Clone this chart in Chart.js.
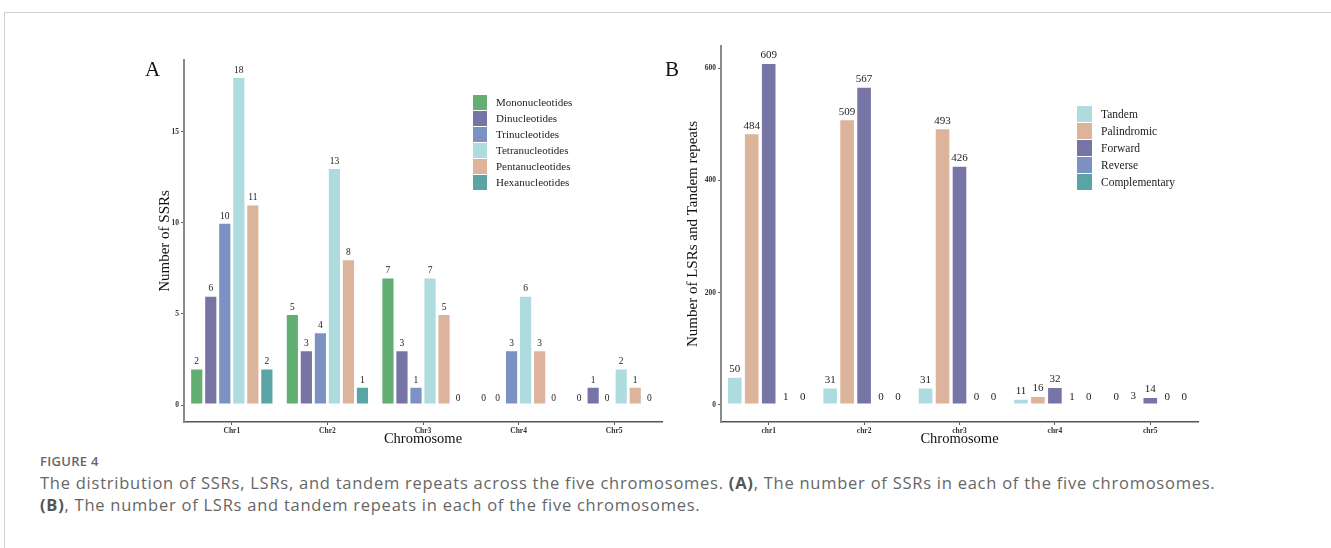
<!DOCTYPE html>
<html>
<head>
<meta charset="utf-8">
<script src="https://cdn.jsdelivr.net/npm/chart.js@4.4.1/dist/chart.umd.min.js"></script>
<style>
    body { margin: 0; background: #fff; width: 1331px; height: 548px; overflow: hidden; position: relative; }
    .frame { position: absolute; left: 4px; top: 12px; right: -2px; bottom: -2px; border-top: 1px solid #d0d0d0; border-left: 1px solid #d0d0d0; }
    .wrap { position: absolute; }
    .panel { position: absolute; font-family: "Liberation Serif", serif; font-size: 21px; color: #111; }
    .legend { position: absolute; font-family: "Liberation Serif", serif; color: #222; }
    .legend div { display: flex; align-items: center; }
    .legend span.sw { display: inline-block; margin-right: 9px; }
    .caption { position: absolute; left: 40px; font-family: "Open Sans", sans-serif; color: #666; white-space: nowrap; }
</style>
</head>
<body>
<div class="frame"></div>

<div class="wrap" style="left:140px; top:40px; width:540px; height:420px;"><canvas id="chartA"></canvas></div>
<div class="wrap" style="left:680px; top:30px; width:530px; height:430px;"><canvas id="chartB"></canvas></div>

<div class="panel" style="left:145px; top:57px;">A</div>
<div class="panel" style="left:665px; top:57px;">B</div>

<div class="legend" id="legendA" style="left:473px; top:94px; font-size:11px;"></div>
<div class="legend" id="legendB" style="left:1077px; top:105px; font-size:11.5px;"></div>

<div class="caption" style="top:452px; font-size:13px; font-weight:600; letter-spacing:0.3px;">FIGURE 4</div>
<div class="caption" style="top:472px; font-size:16.5px; line-height:22px; letter-spacing:0.75px;">
    The distribution of SSRs, LSRs, and tandem repeats across the five chromosomes. <b style="color:#555">(A)</b>, The number of SSRs in each of the five chromosomes.<br>
    <b style="color:#555">(B)</b>, The number of LSRs and tandem repeats in each of the five chromosomes.
</div>

<script>
// Panel A - SSRs
const ssrChromosomes = ['Chr1', 'Chr2', 'Chr3', 'Chr4', 'Chr5'];
const mononucleotides = [2, 5, 7, 0, 0];
const dinucleotides = [6, 3, 3, 0, 1];
const trinucleotides = [10, 4, 1, 3, 0];
const tetranucleotides = [18, 13, 7, 6, 2];
const pentanucleotides = [11, 8, 5, 3, 1];
const hexanucleotides = [2, 1, 0, 0, 0];
const ssrTicks = [0, 5, 10, 15];

// Panel B - LSRs and tandem repeats
const lsrChromosomes = ['chr1', 'chr2', 'chr3', 'chr4', 'chr5'];
const tandem = [50, 31, 31, 11, 0];
const palindromic = [484, 509, 493, 16, 3];
const forward = [609, 567, 426, 32, 14];
const reverse = [1, 0, 0, 1, 0];
const complementary = [0, 0, 0, 0, 0];
const lsrTicks = [0, 200, 400, 600];

const colors = {
    green: '#63ae72',
    purple: '#7675a6',
    blue: '#7b92c3',
    cyan: '#aedcde',
    tan: '#dbb49b',
    teal: '#5aa4a5'
};

// value on top of each bar
const barLabels = {
    id: 'barLabels',
    afterDatasetsDraw(chart, args, opts) {
        const ctx = chart.ctx;
        ctx.save();
        ctx.font = opts.size + 'px "Liberation Serif", serif';
        ctx.fillStyle = '#222';
        ctx.textAlign = 'center';
        ctx.textBaseline = 'bottom';
        chart.data.datasets.forEach((ds, i) => {
            chart.getDatasetMeta(i).data.forEach((bar, j) => {
                ctx.fillText(String(ds.data[j]), bar.x, bar.y - 2);
            });
        });
        ctx.restore();
    }
};

function makeChart(id, labels, sets, yMin, yMax, yTicks, yTitle, o) {
    const ctx = document.getElementById(id).getContext('2d');
    return new Chart(ctx, {
        type: 'bar',
        data: {
            labels: labels,
            datasets: sets.map(s => ({
                label: s.label,
                data: s.data,
                backgroundColor: s.color,
                borderColor: '#ffffff',
                borderWidth: 1,
                borderSkipped: false,
                categoryPercentage: o.catPct,
                barPercentage: o.barPct
            }))
        },
        options: {
            responsive: true,
            maintainAspectRatio: false,
            animation: false,
            layout: { padding: { top: o.padTop, right: o.padRight, left: 0, bottom: 0 } },
            plugins: {
                legend: { display: false },
                tooltip: { enabled: false },
                barLabels: { size: o.labelSize }
            },
            scales: {
                x: {
                    grid: { display: true, offset: false, drawOnChartArea: false, tickLength: 3, color: '#555', lineWidth: 1 },
                    border: { display: true, color: '#555', width: 1.5 },
                    ticks: { padding: 2, color: '#333', font: { family: '"Liberation Serif", serif', size: 7.5, weight: 'bold' } },
                    title: { display: true, text: 'Chromosome', color: '#111', padding: { top: 0, bottom: o.xTitlePad }, font: { family: '"Liberation Serif", serif', size: 14.5 } },
                    afterFit: s => { s.height = 38; }
                },
                y: {
                    min: yMin,
                    max: yMax,
                    afterBuildTicks: s => { s.ticks = yTicks.map(v => ({ value: v })); },
                    grid: { display: true, drawOnChartArea: false, tickLength: 3, color: '#666', lineWidth: 1 },
                    border: { display: true, color: '#8a8a8a', width: 2 },
                    ticks: { padding: 2, color: '#333', font: { family: '"Liberation Serif", serif', size: 7.5, weight: 'bold' } },
                    title: { display: true, text: yTitle, color: '#111', padding: { top: o.yTitlePad, bottom: 0 }, font: { family: '"Liberation Serif", serif', size: 15 } },
                    afterFit: s => { s.width = o.yWidth; }
                }
            }
        },
        plugins: [barLabels]
    });
}

const setsA = [
    { label: 'Mononucleotides', data: mononucleotides, color: colors.green },
    { label: 'Dinucleotides', data: dinucleotides, color: colors.purple },
    { label: 'Trinucleotides', data: trinucleotides, color: colors.blue },
    { label: 'Tetranucleotides', data: tetranucleotides, color: colors.cyan },
    { label: 'Pentanucleotides', data: pentanucleotides, color: colors.tan },
    { label: 'Hexanucleotides', data: hexanucleotides, color: colors.teal }
];
const setsB = [
    { label: 'Tandem', data: tandem, color: colors.cyan },
    { label: 'Palindromic', data: palindromic, color: colors.tan },
    { label: 'Forward', data: forward, color: colors.purple },
    { label: 'Reverse', data: reverse, color: colors.blue },
    { label: 'Complementary', data: complementary, color: colors.teal }
];

makeChart('chartA', ssrChromosomes, setsA, -0.93, 18.93, ssrTicks, 'Number of SSRs',
    { catPct: 0.88, barPct: 0.94, padTop: 20, padRight: 18, labelSize: 9.5, yWidth: 44, yTitlePad: 16, xTitlePad: 12 });
makeChart('chartB', lsrChromosomes, setsB, -30.45, 639.45, lsrTicks, 'Number of LSRs and Tandem repeats',
    { catPct: 0.89, barPct: 0.92, padTop: 16, padRight: 12, labelSize: 11, yWidth: 41, yTitlePad: 4, xTitlePad: 12 });

// html legends
function buildLegend(el, sets, sw, rowH) {
    sets.forEach(s => {
        const row = document.createElement('div');
        row.style.height = rowH + 'px';
        const box = document.createElement('span');
        box.className = 'sw';
        box.style.width = sw + 'px';
        box.style.height = (rowH - 1) + 'px';
        box.style.background = s.color;
        row.appendChild(box);
        row.appendChild(document.createTextNode(s.label));
        el.appendChild(row);
    });
}
buildLegend(document.getElementById('legendA'), setsA, 14, 16);
buildLegend(document.getElementById('legendB'), setsB, 15, 17);
</script>
</body>
</html>
